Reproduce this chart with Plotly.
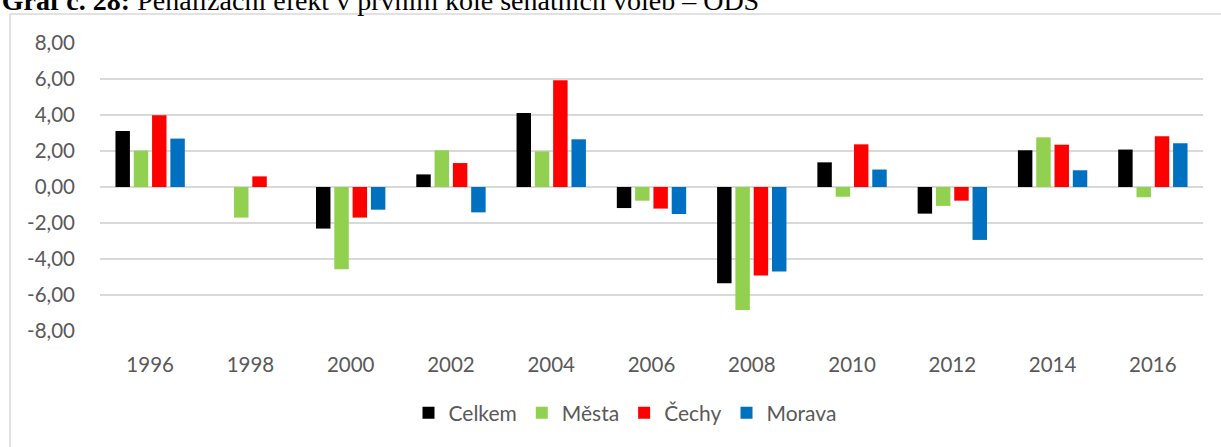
import plotly.graph_objects as go

years = ["1996", "1998", "2000", "2002", "2004", "2006", "2008", "2010", "2012", "2014", "2016"]
celkem = [3.11, 0.0, -2.31, 0.70, 4.11, -1.17, -5.35, 1.37, -1.48, 2.04, 2.08]
mesta = [2.02, -1.70, -4.57, 2.04, 1.98, -0.76, -6.83, -0.54, -1.05, 2.76, -0.57]
cechy = [3.98, 0.59, -1.70, 1.33, 5.93, -1.20, -4.91, 2.37, -0.76, 2.35, 2.82]
morava = [2.69, 0.0, -1.26, -1.41, 2.65, -1.50, -4.70, 0.97, -2.94, 0.93, 2.43]
ytick_vals = [-8, -6, -4, -2, 0, 2, 4, 6, 8]
ytick_text = ["-8,00", "-6,00", "-4,00", "-2,00", "0,00", "2,00", "4,00", "6,00", "8,00"]

series = [("Celkem", celkem, "#000000"), ("Města", mesta, "#92D050"),
          ("Čechy", cechy, "#FF0000"), ("Morava", morava, "#0070C0")]

W, H = 1221, 447
# plot area in pixels
PL, PR, PT, PB = 100, 1203, 43, 331
# chart-area frame (top-left corner), in pixels
FX, FY = 10, 14

fig = go.Figure()
for name, vals, col in series:
    fig.add_trace(go.Bar(x=years, y=vals, name=name, marker=dict(color=col, line=dict(width=0))))

# frame drawn on a hidden full-figure pixel axis pair
fig.add_trace(go.Scatter(x=[FX, FX, W + 5], y=[H + 5, FY, FY], mode="lines",
                         line=dict(color="#d9d9d9", width=1.5), xaxis="x2", yaxis="y2",
                         showlegend=False, hoverinfo="skip", cliponaxis=False))

font_family = "Lato, Carlito, 'Open Sans', sans-serif"
fig.update_layout(
    width=W, height=H,
    margin=dict(l=0, r=0, t=0, b=0, pad=0, autoexpand=False),
    paper_bgcolor="white", plot_bgcolor="rgba(0,0,0,0)",
    barmode="group", bargap=0.27, bargroupgap=0.21,
    font=dict(family=font_family, size=20.5, color="#595959"),
    title=dict(text="<b>Graf č. 28:</b> Penalizační efekt v prvním kole senátních voleb – ODS",
               font=dict(family="'Liberation Serif', 'DejaVu Serif', serif", size=28, color="#000000"),
               x=0.0015, xanchor="left", xref="container",
               y=1.0, yanchor="middle", yref="container", automargin=False),
    showlegend=True,
    legend=dict(orientation="h", x=625 / W, xanchor="center",
                y=1 - 413 / H, yanchor="middle",
                font=dict(size=21, color="#595959"),
                traceorder="normal"),
    xaxis=dict(domain=[PL / W, PR / W], showgrid=False, showline=False, ticks="",
               tickfont=dict(size=20.5, color="#595959"),
               ticklabelstandoff=19, automargin=False),
    yaxis=dict(domain=[1 - PB / H, 1 - PT / H], range=[-8, 8], tickvals=ytick_vals,
               ticktext=ytick_text, showgrid=True,
               gridcolor="#d9d9d9", gridwidth=1.5, zeroline=True, zerolinecolor="#d9d9d9",
               zerolinewidth=1.5, showline=False, ticks="", tickfont=dict(size=20.5, color="#595959"),
               ticklabelstandoff=24, automargin=False),
    xaxis2=dict(domain=[0, 1], range=[0, W], visible=False, fixedrange=True, anchor="y2"),
    yaxis2=dict(domain=[0, 1], range=[H, 0], visible=False, fixedrange=True, anchor="x2"),
)

fig.write_html("out.html", config={"displayModeBar": False},
               post_script="document.body.style.margin='0';")
